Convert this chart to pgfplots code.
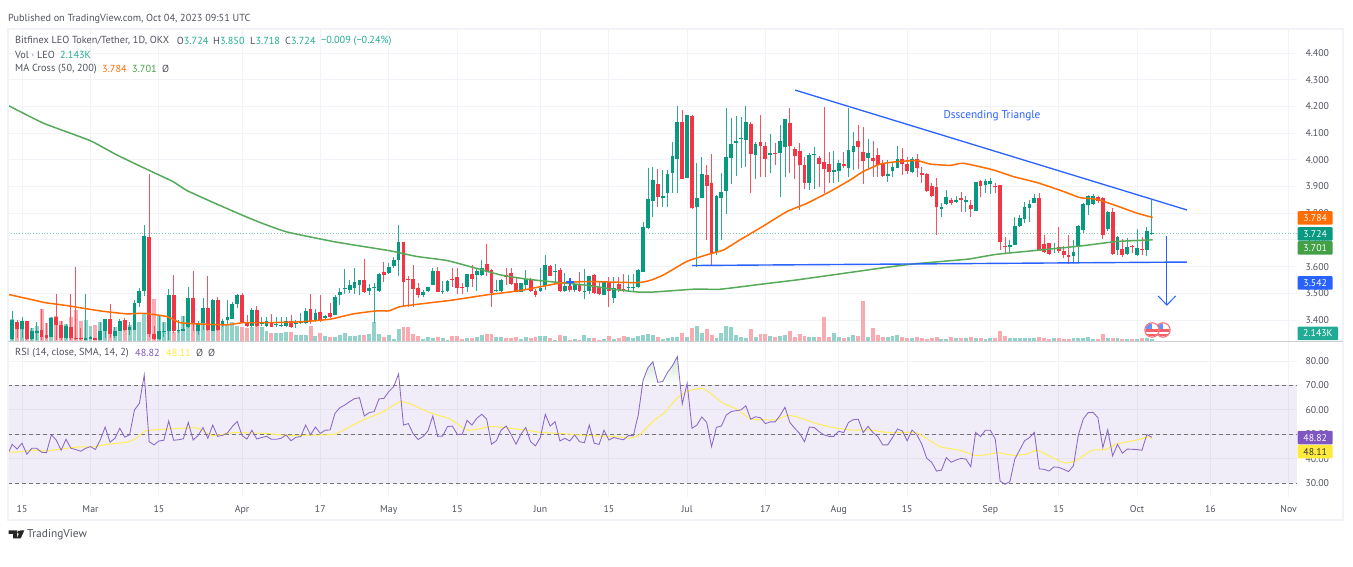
\documentclass[border=0pt]{standalone}
\usepackage{fontspec}
\usepackage{pgfplots}
\usepackage{pgfplotstable}
\pgfplotsset{compat=1.18}
\setmainfont{PT Sans}
\definecolor{up}{HTML}{089981}
\definecolor{dn}{HTML}{F23645}
\definecolor{vup}{HTML}{93D2C8}
\definecolor{vdn}{HTML}{F9ABB1}
\definecolor{ma50}{HTML}{FF6D00}
\definecolor{ma200}{HTML}{43A047}
\definecolor{tv}{HTML}{2962FF}
\definecolor{rsi}{HTML}{7E57C2}
\definecolor{rsima}{HTML}{FFEB3B}
\definecolor{gridc}{HTML}{F1F3F8}
\definecolor{txt}{HTML}{50535E}
\definecolor{tealt}{HTML}{22AB94}
\pgfplotstableread{
d o h l c v
-3 3.353 3.353 3.328 3.332 8.3
-2 3.328 3.434 3.326 3.400 21.7
-1 3.394 3.400 3.332 3.365 19.3
0 3.365 3.413 3.332 3.397 20
1 3.397 3.397 3.326 3.328 20.3
2 3.328 3.369 3.326 3.357 12.7
3 3.353 3.394 3.326 3.360 15
4 3.363 3.440 3.326 3.338 31.7
5 3.343 3.390 3.328 3.334 18.3
6 3.338 3.413 3.338 3.409 23.7
7 3.413 3.498 3.326 3.382 25
8 3.382 3.398 3.326 3.332 20.3
9 3.332 3.385 3.328 3.378 16.7
10 3.375 3.498 3.326 3.332 23.7
11 3.332 3.598 3.326 3.328 31
12 3.332 3.369 3.326 3.328 20.3
13 3.326 3.498 3.326 3.334 21
14 3.329 3.339 3.329 3.337 15
15 3.334 3.334 3.326 3.326 16
16 3.326 3.394 3.326 3.357 19.3
17 3.357 3.404 3.334 3.404 21.7
18 3.404 3.459 3.332 3.348 22
19 3.340 3.375 3.332 3.360 14.3
20 3.360 3.403 3.357 3.398 19.3
21 3.400 3.407 3.357 3.363 20.3
22 3.363 3.394 3.344 3.375 16
23 3.363 3.475 3.363 3.463 24.3
24 3.462 3.519 3.450 3.509 19.3
25 3.510 3.756 3.488 3.715 28.3
26 3.711 3.947 3.338 3.348 42
27 3.348 3.378 3.326 3.328 41.7
28 3.328 3.415 3.326 3.357 25
29 3.354 3.394 3.338 3.358 19.3
30 3.357 3.516 3.326 3.495 17.7
31 3.495 3.569 3.350 3.357 9.3
32 3.357 3.400 3.350 3.363 11
33 3.358 3.415 3.357 3.367 25.3
34 3.373 3.523 3.369 3.483 17
35 3.483 3.584 3.357 3.390 18.3
36 3.357 3.398 3.344 3.390 17
37 3.388 3.482 3.363 3.445 18.3
38 3.445 3.565 3.360 3.363 11
39 3.359 3.479 3.357 3.475 24.3
40 3.473 3.485 3.357 3.363 19.3
41 3.382 3.403 3.375 3.397 16
42 3.400 3.475 3.382 3.410 16
43 3.404 3.469 3.403 3.460 19.3
44 3.460 3.498 3.444 3.494 15
45 3.493 3.500 3.388 3.394 14.3
46 3.388 3.417 3.375 3.378 12.7
47 3.378 3.444 3.375 3.438 14.3
48 3.438 3.453 3.375 3.378 18.3
49 3.384 3.413 3.378 3.388 13.7
50 3.378 3.413 3.375 3.397 10.3
51 3.393 3.423 3.373 3.375 7.7
52 3.380 3.413 3.375 3.385 8
53 3.379 3.410 3.375 3.382 8
54 3.379 3.413 3.375 3.397 9.3
55 3.398 3.419 3.369 3.372 8.7
56 3.385 3.400 3.369 3.390 6
57 3.387 3.428 3.385 3.392 5.7
58 3.390 3.444 3.385 3.434 6
59 3.440 3.498 3.385 3.397 15.3
60 3.398 3.440 3.394 3.428 5
61 3.430 3.494 3.394 3.400 8
62 3.409 3.419 3.400 3.415 5.3
63 3.428 3.463 3.407 3.412 4.3
64 3.419 3.494 3.417 3.487 3.7
65 3.495 3.519 3.457 3.506 6
66 3.515 3.591 3.498 3.520 7.7
67 3.513 3.548 3.500 3.530 5.3
68 3.521 3.596 3.498 3.543 5
69 3.531 3.550 3.495 3.550 5.7
70 3.550 3.629 3.500 3.503 5.7
71 3.508 3.535 3.494 3.520 6.7
72 3.520 3.540 3.388 3.523 18.7
73 3.509 3.575 3.506 3.571 6.7
74 3.580 3.616 3.544 3.569 4.3
75 3.575 3.613 3.573 3.599 5.7
76 3.603 3.635 3.594 3.624 1.7
77 3.625 3.756 3.563 3.692 12
78 3.692 3.692 3.450 3.544 14.3
79 3.554 3.563 3.450 3.550 13.7
80 3.554 3.606 3.450 3.516 7
81 3.520 3.538 3.482 3.493 5
82 3.493 3.513 3.485 3.505 1.7
83 3.510 3.525 3.503 3.523 3.7
84 3.531 3.596 3.531 3.584 2.7
85 3.584 3.600 3.503 3.505 4.3
86 3.504 3.546 3.498 3.509 2.7
87 3.509 3.548 3.506 3.546 1
88 3.554 3.596 3.525 3.548 5
89 3.561 3.594 3.498 3.520 5
90 3.525 3.538 3.498 3.520 2.3
91 3.524 3.573 3.506 3.573 2.7
92 3.573 3.606 3.525 3.554 2.7
93 3.569 3.594 3.510 3.584 4.3
94 3.568 3.625 3.563 3.595 6
95 3.609 3.685 3.563 3.581 7
96 3.586 3.590 3.450 3.500 7.3
97 3.508 3.548 3.505 3.513 3.7
98 3.508 3.553 3.505 3.550 4.3
99 3.568 3.596 3.531 3.560 2.7
100 3.575 3.596 3.531 3.535 3.3
101 3.538 3.560 3.504 3.506 4.3
102 3.505 3.540 3.503 3.538 2
103 3.531 3.588 3.513 3.554 3.7
104 3.553 3.556 3.506 3.509 2.7
105 3.510 3.515 3.485 3.493 4.3
106 3.509 3.596 3.506 3.520 5
107 3.528 3.643 3.513 3.605 5
108 3.603 3.605 3.563 3.565 2.7
109 3.580 3.609 3.538 3.585 1.3
110 3.588 3.594 3.506 3.510 6
111 3.510 3.575 3.505 3.526 5
112 3.529 3.556 3.506 3.511 1
113 3.513 3.544 3.506 3.534 1.7
114 3.530 3.581 3.505 3.509 1
115 3.504 3.591 3.478 3.508 6.3
116 3.508 3.565 3.498 3.563 2.7
117 3.569 3.571 3.498 3.501 3.3
118 3.523 3.544 3.494 3.497 1
119 3.495 3.544 3.493 3.544 1.7
120 3.544 3.560 3.450 3.509 5
121 3.483 3.560 3.463 3.520 2.3
122 3.535 3.560 3.506 3.513 2.7
123 3.516 3.573 3.506 3.513 5
124 3.521 3.569 3.506 3.525 3.7
125 3.521 3.573 3.506 3.525 2.7
126 3.523 3.590 3.519 3.588 5.3
127 3.581 3.766 3.579 3.749 6
128 3.746 3.968 3.740 3.852 7
129 3.847 3.972 3.787 3.924 6
130 3.909 3.964 3.825 3.860 3.7
131 3.858 3.962 3.825 3.865 2
132 3.877 3.962 3.825 3.947 3.3
133 3.949 4.068 3.875 4.014 4
134 4.003 4.201 3.875 4.142 4
135 4.142 4.187 3.929 3.929 8.3
136 3.932 4.168 3.931 4.167 4.3
137 4.164 4.168 3.816 3.818 13
138 3.822 3.987 3.600 3.858 15.3
139 3.856 4.012 3.856 3.947 7.7
140 3.943 3.981 3.700 3.902 12
141 3.912 4.022 3.602 3.650 6
142 3.654 3.868 3.644 3.865 2.7
143 3.856 3.949 3.700 3.880 7.7
144 3.883 4.193 3.797 4.011 15
145 4.008 4.155 3.909 4.058 13.7
146 4.064 4.164 3.939 4.072 6
147 4.077 4.162 3.968 4.080 3.7
148 4.074 4.201 3.974 4.142 2.7
149 4.134 4.140 3.877 4.022 12
150 4.018 4.068 3.927 4.060 4.3
151 4.068 4.167 3.934 4.052 7
152 4.052 4.068 3.934 4.003 7
153 4.019 4.095 3.949 4.024 5
154 4.024 4.062 3.981 4.021 3.7
155 4.027 4.130 3.860 4.069 5
156 4.049 4.152 3.934 4.152 6
157 4.137 4.193 3.949 4.052 10
158 4.041 4.049 3.927 4.016 3.7
159 4.034 4.062 3.812 3.979 7
160 3.979 4.012 3.889 3.914 5
161 3.914 4.024 3.887 4.019 3.7
162 4.017 4.049 3.889 4.021 3.7
163 4.006 4.014 3.899 3.984 3.7
164 3.993 4.199 3.875 3.966 23.7
165 3.984 4.031 3.912 3.956 4.3
166 3.956 4.034 3.912 3.962 8.3
167 3.959 3.999 3.918 3.989 3.7
168 3.983 4.031 3.968 3.977 2.7
169 3.969 4.193 3.934 4.038 4.3
170 4.030 4.105 3.962 4.052 6
171 4.072 4.130 3.964 4.048 5
172 4.029 4.122 3.909 3.997 40
173 4.008 4.077 3.962 4.027 4.3
174 4.006 4.072 3.937 3.996 13
175 4.017 4.043 3.937 3.979 6
176 3.984 4.000 3.937 3.939 3.7
177 3.941 4.000 3.918 3.947 3.7
178 3.959 3.993 3.937 3.973 5
179 3.968 4.052 3.968 4.004 6
180 4.004 4.043 3.943 3.984 3.7
181 3.984 4.012 3.947 3.959 2.7
182 3.954 4.012 3.949 4.002 2.7
183 4.004 4.022 3.934 3.968 4.3
184 3.949 3.972 3.912 3.943 2.7
185 3.947 3.949 3.881 3.884 1.7
186 3.902 3.912 3.860 3.865 3.3
187 3.897 3.931 3.719 3.822 4.3
188 3.817 3.837 3.785 3.823 2.3
189 3.835 3.887 3.831 3.860 1.7
190 3.850 3.856 3.831 3.840 3.7
191 3.843 3.865 3.837 3.850 3
192 3.856 3.878 3.806 3.851 3
193 3.842 3.865 3.806 3.850 3
194 3.831 3.850 3.785 3.816 4
195 3.810 3.916 3.810 3.916 2.5
196 3.922 3.924 3.862 3.900 2.5
197 3.906 3.927 3.875 3.921 2
198 3.909 3.931 3.872 3.921 3
199 3.902 3.914 3.875 3.897 2.5
200 3.906 3.906 3.662 3.691 10
201 3.677 3.710 3.650 3.672 5.3
202 3.672 3.700 3.650 3.680 3
203 3.681 3.785 3.681 3.753 2.5
204 3.753 3.793 3.750 3.781 3
205 3.779 3.843 3.762 3.823 2.5
206 3.820 3.850 3.768 3.836 2.5
207 3.837 3.872 3.837 3.857 3
208 3.858 3.875 3.660 3.662 3.5
209 3.685 3.719 3.650 3.656 2.5
210 3.687 3.690 3.644 3.647 2
211 3.665 3.690 3.652 3.670 2.5
212 3.672 3.750 3.650 3.660 2.5
213 3.660 3.677 3.631 3.644 2
214 3.644 3.719 3.610 3.635 2
215 3.641 3.700 3.612 3.656 3
216 3.677 3.756 3.619 3.752 3
217 3.737 3.837 3.725 3.833 3
218 3.832 3.868 3.793 3.865 3.5
219 3.835 3.872 3.831 3.865 2
220 3.860 3.865 3.840 3.845 2
221 3.856 3.860 3.702 3.717 6.5
222 3.740 3.810 3.735 3.806 3
223 3.806 3.818 3.644 3.647 3
224 3.662 3.715 3.644 3.710 2.5
225 3.665 3.702 3.635 3.644 2
226 3.647 3.706 3.644 3.675 2
227 3.677 3.681 3.650 3.672 1.5
228 3.644 3.740 3.640 3.669 2
229 3.667 3.712 3.644 3.662 2.5
230 3.662 3.750 3.640 3.732 3
231 3.724 3.850 3.718 3.725 2.143
}\candles
\pgfplotstableread{
d r
-3 41.6
-2 45.9
-1 44.0
0 46.4
1 41.9
2 44.3
3 44.3
4 42.7
5 42.5
6 49.8
7 47.7
8 43.5
9 48.0
10 44.3
11 43.8
12 43.1
13 44.3
14 45.0
15 43.8
16 47.7
17 53.0
18 46.8
19 48.4
20 52.5
21 48.9
22 49.8
23 60.0
24 62.7
25 74.3
26 47.0
27 45.7
28 47.3
29 47.6
30 55.5
31 47.6
32 47.8
33 48.2
34 54.9
35 47.7
36 49.5
37 52.8
38 48.4
39 53.8
40 49.2
41 49.6
42 50.6
43 53.2
44 55.3
45 49.5
46 48.1
47 51.7
48 48.1
49 48.7
50 49.2
51 48.0
52 48.0
53 48.4
54 49.8
55 47.4
56 48.8
57 49.1
58 53.8
59 49.8
60 53.0
61 50.4
62 51.7
63 51.8
64 58.6
65 60.9
66 62.0
67 63.4
68 64.6
69 65.0
70 57.5
71 58.9
72 59.3
73 64.5
74 64.7
75 67.5
76 69.5
77 74.7
78 53.8
79 54.4
80 50.2
81 47.9
82 49.1
83 51.4
84 57.5
85 49.2
86 49.3
87 53.2
88 53.4
89 50.0
90 50.0
91 55.7
92 53.8
93 56.6
94 58.2
95 56.3
96 46.0
97 47.4
98 51.8
99 53.4
100 50.0
101 46.0
102 50.0
103 52.8
104 47.0
105 45.3
106 48.8
107 58.2
108 53.4
109 55.2
110 47.3
111 48.4
112 47.3
113 49.8
114 47.0
115 46.6
116 53.8
117 46.4
118 45.9
119 51.7
120 47.7
121 48.7
122 48.2
123 47.8
124 49.5
125 49.5
126 57.9
127 72.2
128 77.3
129 79.7
130 71.3
131 71.6
132 75.4
133 78.1
134 81.8
135 62.4
136 70.9
137 52.5
138 53.8
139 57.1
140 54.9
141 45.0
142 52.9
143 53.4
144 57.9
145 59.3
146 59.7
147 60.0
148 61.7
149 56.2
150 57.2
151 56.8
152 54.4
153 55.1
154 55.1
155 57.7
156 61.1
157 54.9
158 52.5
159 50.4
160 47.0
161 53.0
162 52.8
163 51.1
164 49.8
165 49.2
166 49.2
167 51.3
168 50.7
169 54.9
170 56.0
171 56.2
172 50.7
173 53.3
174 50.7
175 49.1
176 45.7
177 45.7
178 48.7
179 52.2
180 51.4
181 47.4
182 51.8
183 49.8
184 45.9
185 40.2
186 38.6
187 35.0
188 35.4
189 40.5
190 38.6
191 39.5
192 40.2
193 39.9
194 36.8
195 50.8
196 49.1
197 51.7
198 51.7
199 48.1
200 30.9
201 29.6
202 30.7
203 39.9
204 43.6
205 47.4
206 48.7
207 50.8
208 35.9
209 35.7
210 35.0
211 36.7
212 36.5
213 35.7
214 34.8
215 37.2
216 49.8
217 56.3
218 58.9
219 59.0
220 56.8
221 44.6
222 51.9
223 41.2
224 45.9
225 42.3
226 44.0
227 43.9
228 43.8
229 43.5
230 50.0
231 48.82
}\rsitable
\pgfplotsset{
  base/.style={scale only axis,width=1289pt,xmin=-2.863,xmax=260.7,
    axis line style={draw=none},tick style={draw=none},
    xtick={0,14,28,45,61,75,89,106,120,136,152,167,181,198,212,228,243,259}},
  price/.style={base,height=312pt,at={(8pt,226pt)},anchor=south west,ymin=3.3213,ymax=4.4899}
}
\newcommand\lbl{\fontsize{10.25}{12}\selectfont}
\newcommand\tck{\fontsize{9.8}{12}\selectfont}
\newcommand\tagn[5]{\node[fill=#1,text=#2,font=\tck,rounded corners=1pt,inner sep=0,minimum height=13.5pt,minimum width=#5pt,anchor=west] at (1297.5,#3) {#4};}
\newcommand\leg[4]{\node[anchor=west,inner sep=0,text=#1,font=\lbl] at (#2,#3) {#4};}
\begin{document}
\begin{tikzpicture}
\path[use as bounding box,fill=white] (0pt,0pt) rectangle (1353pt,567pt);
% price axis: grid and tick labels
\begin{axis}[price,xmajorgrids,ymajorgrids,
  grid style={gridc,line width=.9pt},
  xticklabels={},
  ytick={3.4,3.5,3.6,3.7,3.8,3.9,4.0,4.1,4.2,4.3,4.4},
  yticklabels={3.400,3.500,3.600,3.700,3.800,3.900,4.000,4.100,4.200,4.300,4.400},
  yticklabel pos=right,
  yticklabel style={font=\tck,text=txt,anchor=west,xshift=5pt}]
\end{axis}
% volume
\begin{axis}[base,height=312pt,at={(8pt,226pt)},anchor=south west,ymin=0,ymax=312,hide axis]
\addplot[ycomb,draw=vup,line width=3.9pt,no markers] table[x=d,y expr={\thisrow{c}>=\thisrow{o} ? \thisrow{v} : 0}] {\candles};
\addplot[ycomb,draw=vdn,line width=3.9pt,no markers] table[x=d,y expr={\thisrow{c}<\thisrow{o} ? \thisrow{v} : 0}] {\candles};
\end{axis}
% candles, averages, drawings
\begin{axis}[price,hide axis]
\addplot[draw=up!50!white,dash pattern=on 1pt off 1.8pt,line width=.9pt] coordinates {(-2.863,3.724) (260.7,3.724)};
\addplot[draw=none,forget plot,error bars/.cd,y dir=plus,y explicit,error mark=none,error bar style={draw=up!85!white,line width=.85pt}]
  table[x=d,y expr=\thisrow{l},y error plus expr={\thisrow{c}>=\thisrow{o} ? \thisrow{h}-\thisrow{l} : 0}] {\candles};
\addplot[draw=none,forget plot,error bars/.cd,y dir=plus,y explicit,error mark=none,error bar style={draw=dn!85!white,line width=.85pt}]
  table[x=d,y expr=\thisrow{l},y error plus expr={\thisrow{c}<\thisrow{o} ? \thisrow{h}-\thisrow{l} : 0}] {\candles};
\addplot[draw=none,forget plot,error bars/.cd,y dir=plus,y explicit,error mark=none,error bar style={draw=up,line width=3.8pt}]
  table[x=d,y expr={min(\thisrow{o},\thisrow{c})},y error plus expr={\thisrow{c}>=\thisrow{o} ? abs(\thisrow{c}-\thisrow{o}) : 0}] {\candles};
\addplot[draw=none,forget plot,error bars/.cd,y dir=plus,y explicit,error mark=none,error bar style={draw=dn,line width=3.8pt}]
  table[x=d,y expr={min(\thisrow{o},\thisrow{c})},y error plus expr={\thisrow{c}<\thisrow{o} ? abs(\thisrow{c}-\thisrow{o}) : 0}] {\candles};
% MA 200
\addplot[ma200!90!white,line width=1.5pt,smooth,tension=.3] coordinates {
(-2.86,4.204)(4.4,4.137)(13.9,4.072)(19.4,4.018)(25.8,3.962)(30.9,3.918)(33.7,3.885)(39.1,3.840)(44.6,3.796)(48.7,3.765)(54.1,3.730)(63,3.696)(67.8,3.681)(75.3,3.659)(80.7,3.638)(86.8,3.623)(91.6,3.600)(97.8,3.569)(103.2,3.553)(110,3.540)(115.5,3.530)(121,3.515)(125.7,3.505)(128.4,3.504)(132.5,3.509)(138,3.516)(142.7,3.515)(151.6,3.535)(158.4,3.550)(166.6,3.571)(175.5,3.594)(182.3,3.610)(191.8,3.625)(193.9,3.629)(199.3,3.646)(208.2,3.662)(216.4,3.677)(223.9,3.694)(231.2,3.700)};
% MA 50
\addplot[ma50,line width=1.5pt,smooth,tension=.3] coordinates {
(-2.86,3.496)(2.3,3.475)(4.7,3.465)(9.1,3.454)(16,3.434)(21.4,3.423)(24.8,3.425)(29.6,3.413)(32.3,3.390)(36.4,3.385)(41.9,3.382)(45.3,3.390)(50,3.390)(56.9,3.393)(63,3.403)(67.8,3.423)(72.5,3.434)(75,3.434)(77.3,3.450)(81.4,3.460)(88.2,3.475)(95,3.494)(101.8,3.510)(110,3.538)(115.5,3.544)(125.7,3.540)(128.4,3.548)(131.2,3.569)(135.9,3.619)(140,3.644)(143.4,3.662)(146.8,3.700)(151.6,3.752)(156.4,3.806)(160.5,3.837)(165.2,3.881)(169.3,3.924)(172,3.956)(175.5,3.984)(178.9,3.993)(183,3.997)(185.7,3.984)(189.8,3.979)(192.5,3.987)(198.6,3.962)(202.7,3.937)(207.5,3.915)(213,3.881)(216.4,3.858)(219.8,3.852)(223.9,3.827)(228,3.800)(231.2,3.784)};
% trend lines, arrow and marker
\addplot[tv,line width=1.3pt] coordinates {(158.1,4.261)(238.2,3.812)};
\addplot[tv,line width=1.4pt] coordinates {(137,3.604)(238.2,3.617)};
\addplot[tv,line width=1pt] coordinates {(234.1,3.715)(234.1,3.456)};
\addplot[tv,line width=1pt] coordinates {(232.3,3.490)(234.1,3.456)(235.9,3.490)};
\addplot[only marks,mark=+,mark size=4pt,tv,mark options={line width=2pt}] coordinates {(112.1,3.542)};
\end{axis}
% RSI
\begin{axis}[base,height=156pt,at={(8pt,70pt)},anchor=south west,ymin=24.4,ymax=88.18,
  xmajorgrids,ymajorgrids,grid style={gridc,line width=.9pt},
  xticklabels={15,Mar,15,Apr,17,May,15,Jun,15,Jul,17,Aug,15,Sep,15,Oct,16,Nov},
  xticklabel style={font=\tck,text=txt,yshift=-5pt},
  ytick={30,40,50,60,70,80},
  yticklabels={30.00,40.00,50.00,60.00,70.00,80.00},
  yticklabel pos=right,
  yticklabel style={font=\tck,text=txt,anchor=west,xshift=5pt}]
\addplot[draw=none,fill=rsi,fill opacity=.11,forget plot] coordinates {(-2.863,30)(260.7,30)(260.7,70)(-2.863,70)} -- cycle;
\addplot[draw=none,top color=green!45!black!18!white,bottom color=white,forget plot] coordinates {(126.8,70)(127,72.2)(128,77.3)(129,79.7)(130,71.3)(131,71.6)(132,75.4)(133,78.1)(134,81.8)(134.6,70)} -- cycle;
\addplot[draw=black!55,dashed,dash pattern=on 4pt off 3pt,line width=.7pt] coordinates {(-2.863,70)(260.7,70)};
\addplot[draw=black!55,dashed,dash pattern=on 4pt off 3pt,line width=.7pt] coordinates {(-2.863,50)(260.7,50)};
\addplot[draw=black!55,dashed,dash pattern=on 4pt off 3pt,line width=.7pt] coordinates {(-2.863,30)(260.7,30)};
\addplot[rsima!85!white,line width=1pt,smooth,tension=.3] coordinates {
(-2.8,42.9)(-1.1,42.7)(2.3,43.6)(5,43.2)(9.1,44.3)(11.9,44.9)(14.6,44.9)(17.3,45.9)(21.4,46.8)(23.4,48.4)(25.2,51.4)(29.6,52.2)(35.7,52.6)(39.1,49.5)(43.2,50.7)(50,50.4)(54.1,49.6)(63.7,50.0)(67.1,53.2)(69.8,55.9)(73.9,59.3)(77.3,63.4)(80,62.0)(83.4,58.9)(87.5,56.3)(90.9,51.8)(93,52.1)(95.7,53.2)(98.4,52.8)(103.2,51.7)(105.9,50.8)(110,50.4)(114.8,49.6)(121.6,49.1)(124.3,48.4)(126.4,50.0)(129.1,55.5)(131.2,58.6)(133.9,64.7)(135.9,67.5)(139.3,68.7)(143.4,62.7)(146.1,60.4)(148.9,56.3)(151.6,56.0)(154.3,56.0)(156.4,57.7)(158.4,57.2)(162.5,54.4)(165.9,52.8)(170,51.7)(173.4,51.8)(176.8,50.8)(179.5,50.8)(183,50.6)(187.7,45.0)(191.8,43.5)(194.9,41.4)(197.3,41.7)(199.7,42.5)(202.7,41.4)(205.5,42.0)(207.5,43.6)(209.6,41.6)(213.3,38.3)(215.7,39.5)(218.8,43.5)(221.5,43.8)(223.9,46.1)(228,47.7)(230.6,49.1)(231.1,48.11)};
\addplot[rsi!90!white,line width=.85pt] table[x=d,y=r] {\rsitable};
\end{axis}
% overlays in picture pixels, y running downward
\begin{scope}[x=1pt,y=-1pt,shift={(0pt,567pt)}]
\draw[gridc,line width=1.4pt] (8,29) rectangle (1343,520);
\draw[gridc!85!black,line width=.8pt] (8,341) -- (1343,341);
\leg{txt}{8}{19}{Published on TradingView.com, Oct 04, 2023 09:51 UTC}
\leg{txt}{15}{41}{Bitfinex LEO Token/Tether, 1D, OKX}
\leg{txt}{176.7}{41}{O\textcolor{tealt}{3.724}}
\leg{txt}{213}{41}{H\textcolor{tealt}{3.850}}
\leg{txt}{250}{41}{L\textcolor{tealt}{3.718}}
\leg{txt}{285}{41}{C\textcolor{tealt}{3.724}}
\leg{tealt}{321}{41}{−0.009 (−0.24\%)}
\leg{txt}{15}{55}{Vol · LEO}
\leg{tealt}{60}{55}{2.143K}
\leg{txt}{15}{69}{MA Cross (50, 200)}
\leg{ma50}{102}{69}{3.784}
\leg{ma200}{132}{69}{3.701}
\leg{txt}{162}{69}{Ø}
\leg{txt}{15}{353}{RSI (14, close, SMA, 14, 2)}
\leg{rsi}{135}{353}{48.82}
\leg{rsima}{166}{353}{48.11}
\leg{txt}{196}{353}{Ø}
\leg{txt}{208}{353}{Ø}
\node[text=tv,font=\fontsize{11.3}{13}\selectfont,inner sep=0] at (992,116) {Dsscending Triangle};
\tagn{ma50}{white}{218}{3.784}{35}
\tagn{up}{white}{234}{3.724}{35}
\tagn{ma200}{white}{248}{3.701}{35}
\tagn{tv}{white}{283}{3.542}{35}
\tagn{tealt}{white}{333.5}{2.143K}{40.5}
\tagn{rsi}{white}{437.7}{48.82}{35}
\tagn{rsima}{black!80}{451.7}{48.11}{35}
% event flags
\foreach \cx in {1163,1152}{
  \begin{scope}
  \clip (\cx,330) circle (6.6);
  \fill[white] (\cx-8,322) rectangle (\cx+8,338);
  \fill[dn!80] (\cx-8,329.5) rectangle (\cx+8,332);
  \fill[dn!80] (\cx-8,334) rectangle (\cx+8,336.5);
  \fill[tv!70] (\cx-7,323) rectangle (\cx,329.5);
  \end{scope}
  \draw[dn!70,line width=1.1pt] (\cx,330) circle (7.2);
}
% TradingView mark and name
\fill[black!85] (8.5,530.5) -- (17,530.5) -- (17,538.5) -- (13,538.5) -- (13,534) -- (8.5,534) -- cycle;
\fill[black!85] (19,532.3) circle (1.8);
\fill[black!85] (20.4,530.5) -- (24.3,530.5) -- (20.6,538.5) -- (16.8,538.5) -- cycle;
\node[anchor=west,inner sep=0,text=txt,font=\fontsize{11.4}{13}\selectfont] at (27,534.5) {TradingView};
\end{scope}
\end{tikzpicture}
\end{document}
